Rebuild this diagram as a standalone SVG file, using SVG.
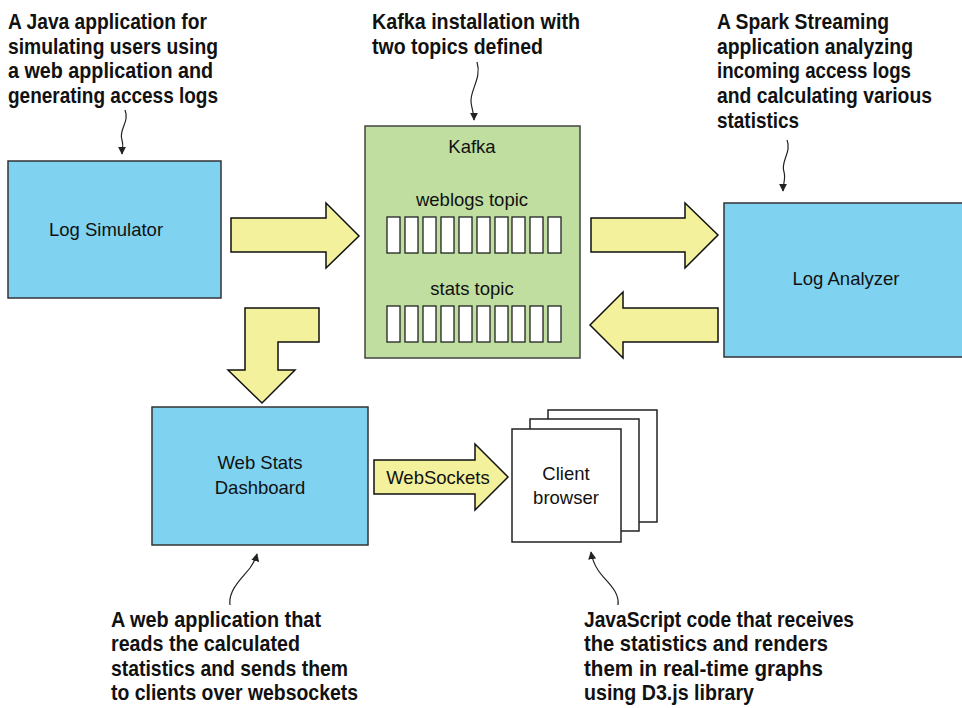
<svg xmlns="http://www.w3.org/2000/svg" width="962" height="708" viewBox="0 0 962 708">
<defs>
<style>
.blue{fill:#7fd3f1;stroke:#333;stroke-width:1.5}
.green{fill:#c0dea0;stroke:#444;stroke-width:1.5}
.cell{fill:#fff;stroke:#222;stroke-width:1.3}
.white{fill:#fff;stroke:#222;stroke-width:1.5}
.arrow{fill:#f3f19b;stroke:#111;stroke-width:1.5;stroke-linejoin:miter}
.lbl{font-family:"Liberation Sans",Arial,sans-serif;font-size:18.5px;fill:#111;text-anchor:middle}
.note{font-family:"Liberation Sans",Arial,sans-serif;font-size:22px;font-weight:bold;fill:#111}
.squig{fill:none;stroke:#222;stroke-width:1.2}
</style>
<marker id="ah" viewBox="0 0 10 10" refX="9" refY="5" markerWidth="8" markerHeight="8" orient="auto" markerUnits="userSpaceOnUse">
<path d="M0,0 L10,5 L0,10 Z" fill="#222"/>
</marker>
</defs>
<rect width="962" height="708" fill="#fff"/>

<g id="connectors">
<polygon class="arrow" points="231,218 326,218 326,203 359,236 326,268 326,252 231,252"/>
<polygon class="arrow" points="591,218 685,218 685,203 718,235 685,268 685,252 591,252"/>
<polygon class="arrow" points="718,308 623,308 623,292 590,325 623,358 623,342 718,342"/>
<polygon class="arrow" points="245,308 319,308 319,342 278,342 278,370 295,370 262,403 228,370 245,370"/>
<polygon class="arrow" points="374,460 475,460 475,444 508,477 475,510 475,494 374,494"/>
<text class="lbl" x="438" y="484">WebSockets</text>
<path class="squig" marker-end="url(#ah)" d="M125,110 C130,122 118,130 122,140 C124,146 122,150 122,154"/>
<path class="squig" marker-end="url(#ah)" d="M477,62 C482,78 470,90 471,102 C472,110 474,114 474,120"/>
<path class="squig" marker-end="url(#ah)" d="M787,140 C792,152 780,162 784,172 C786,178 783,184 783,191"/>
<path class="squig" marker-end="url(#ah)" d="M230,605 C228,590 242,578 250,568 C254,562 256,558 257,554"/>
<path class="squig" marker-end="url(#ah)" d="M618,605 C620,590 604,580 598,570 C594,564 592,558 591,552"/>
</g>

<g id="log-simulator">
<rect class="blue" x="8" y="161" width="213" height="137"/>
<text class="lbl" x="106" y="236">Log Simulator</text>
</g>

<g id="kafka">
<rect class="green" x="365" y="126" width="215" height="232"/>
<text class="lbl" x="472" y="153">Kafka</text>
<text class="lbl" x="472" y="206">weblogs topic</text>
<text class="lbl" x="472" y="295">stats topic</text>
<g id="weblogs-cells">
<rect class="cell" x="387" y="217" width="13" height="36"/>
<rect class="cell" x="405" y="217" width="13" height="36"/>
<rect class="cell" x="423" y="217" width="13" height="36"/>
<rect class="cell" x="441" y="217" width="13" height="36"/>
<rect class="cell" x="459" y="217" width="13" height="36"/>
<rect class="cell" x="477" y="217" width="13" height="36"/>
<rect class="cell" x="495" y="217" width="13" height="36"/>
<rect class="cell" x="512" y="217" width="13" height="36"/>
<rect class="cell" x="530" y="217" width="13" height="36"/>
<rect class="cell" x="548" y="217" width="13" height="36"/>
</g>
<g id="stats-cells">
<rect class="cell" x="387" y="306" width="13" height="36"/>
<rect class="cell" x="405" y="306" width="13" height="36"/>
<rect class="cell" x="423" y="306" width="13" height="36"/>
<rect class="cell" x="441" y="306" width="13" height="36"/>
<rect class="cell" x="459" y="306" width="13" height="36"/>
<rect class="cell" x="477" y="306" width="13" height="36"/>
<rect class="cell" x="495" y="306" width="13" height="36"/>
<rect class="cell" x="512" y="306" width="13" height="36"/>
<rect class="cell" x="530" y="306" width="13" height="36"/>
<rect class="cell" x="548" y="306" width="13" height="36"/>
</g>
</g>

<g id="log-analyzer">
<rect class="blue" x="724" y="203" width="250" height="154"/>
<text class="lbl" x="846" y="285">Log Analyzer</text>
</g>

<g id="web-stats-dashboard">
<rect class="blue" x="152" y="407" width="216" height="138"/>
<text class="lbl" x="260" y="469">Web Stats</text>
<text class="lbl" x="260" y="494">Dashboard</text>
</g>

<g id="client-browser">
<rect class="white" x="548" y="410" width="109" height="112"/>
<rect class="white" x="530" y="419" width="109" height="112"/>
<rect class="white" x="512" y="429" width="109" height="113"/>
<text class="lbl" x="566" y="480">Client</text>
<text class="lbl" x="566" y="504">browser</text>
</g>

<g id="note-simulator">
<text class="note" x="8" y="29" textLength="199" lengthAdjust="spacingAndGlyphs">A Java application for</text>
<text class="note" x="8" y="54" textLength="210" lengthAdjust="spacingAndGlyphs">simulating users using</text>
<text class="note" x="8" y="78" textLength="205" lengthAdjust="spacingAndGlyphs">a web application and</text>
<text class="note" x="8" y="103" textLength="210" lengthAdjust="spacingAndGlyphs">generating access logs</text>
</g>
<g id="note-kafka">
<text class="note" x="372" y="29" textLength="208" lengthAdjust="spacingAndGlyphs">Kafka installation with</text>
<text class="note" x="372" y="54" textLength="171" lengthAdjust="spacingAndGlyphs">two topics defined</text>
</g>
<g id="note-spark">
<text class="note" x="717" y="29" textLength="172" lengthAdjust="spacingAndGlyphs">A Spark Streaming</text>
<text class="note" x="717" y="54" textLength="196" lengthAdjust="spacingAndGlyphs">application analyzing</text>
<text class="note" x="717" y="78" textLength="194" lengthAdjust="spacingAndGlyphs">incoming access logs</text>
<text class="note" x="717" y="103" textLength="215" lengthAdjust="spacingAndGlyphs">and calculating various</text>
<text class="note" x="717" y="128" textLength="82" lengthAdjust="spacingAndGlyphs">statistics</text>
</g>
<g id="note-dashboard">
<text class="note" x="111" y="627" textLength="210" lengthAdjust="spacingAndGlyphs">A web application that</text>
<text class="note" x="111" y="651" textLength="189" lengthAdjust="spacingAndGlyphs">reads the calculated</text>
<text class="note" x="111" y="676" textLength="237" lengthAdjust="spacingAndGlyphs">statistics and sends them</text>
<text class="note" x="111" y="700" textLength="247" lengthAdjust="spacingAndGlyphs">to clients over websockets</text>
</g>
<g id="note-browser">
<text class="note" x="584" y="627" textLength="270" lengthAdjust="spacingAndGlyphs">JavaScript code that receives</text>
<text class="note" x="584" y="651" textLength="244" lengthAdjust="spacingAndGlyphs">the statistics and renders</text>
<text class="note" x="584" y="676" textLength="239" lengthAdjust="spacingAndGlyphs">them in real-time graphs</text>
<text class="note" x="584" y="700" textLength="170" lengthAdjust="spacingAndGlyphs">using D3.js library</text>
</g>
</svg>
